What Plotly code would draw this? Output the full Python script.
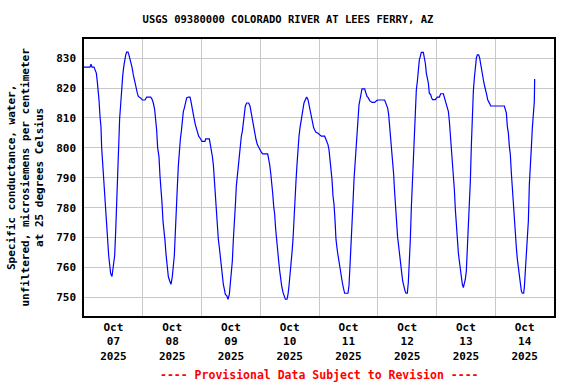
import plotly.graph_objects as go
import pandas as pd

# Hours after 2025-10-07 00:00 and specific conductance readings (uS/cm at 25 C)
hours = [
    0, 2.45, 2.86, 3.27, 4.08, 4.49, 5.04, 5.45, 5.72, 6.13, 6.54, 6.94, 7.22, 7.76, 8.17, 8.58, 8.99, 9.40,
    9.67, 10.08, 10.48, 10.89, 11.44, 12.12, 12.53, 12.94, 13.34, 13.75, 14.16, 14.57, 14.98, 15.39, 15.80,
    16.20, 16.61, 17.02, 17.43, 17.97, 18.38, 18.93, 19.61, 20.15, 20.70, 21.24, 21.79, 22.19, 23.15, 23.83,
    24.92, 25.60, 27.23, 27.78, 28.32, 28.87, 29.28, 29.68, 30.09, 30.64, 31.05, 31.45, 31.86, 32.27, 32.68,
    33.09, 33.50, 33.91, 34.45, 35.00, 35.54, 36.08, 36.49, 36.90, 37.31, 37.72, 38.13, 38.54, 38.94, 39.35,
    39.76, 40.17, 40.58, 40.99, 41.53, 41.94, 42.62, 43.30, 43.71, 44.12, 44.53, 44.93, 45.48, 45.89, 46.30,
    46.84, 47.39, 48.21, 49.43, 49.70, 51.20, 51.61, 52.02, 52.43, 52.84, 53.24, 53.65, 54.06, 54.47, 54.88,
    55.29, 55.70, 56.10, 56.51, 56.92, 57.33, 57.74, 58.28, 58.83, 59.37, 59.78, 60.19, 60.60, 61.01, 61.41,
    61.82, 62.23, 62.64, 63.05, 63.46, 63.87, 64.27, 64.68, 65.09, 65.50, 65.91, 66.45, 67.27, 67.81, 68.22,
    68.77, 69.18, 69.72, 70.27, 70.81, 71.35, 71.90, 72.44, 72.99, 75.03, 75.44, 75.85, 76.26, 76.67, 77.07,
    77.48, 77.89, 78.30, 78.71, 79.12, 79.53, 79.93, 80.34, 80.75, 81.30, 81.84, 82.25, 82.93, 83.34, 83.75,
    84.15, 84.56, 84.97, 85.38, 85.79, 86.20, 86.61, 87.01, 87.42, 87.83, 88.24, 88.65, 89.06, 89.47, 89.87,
    90.42, 90.96, 91.51, 91.92, 92.33, 92.73, 93.28, 93.82, 94.23, 94.78, 95.46, 96.95, 98.31, 98.72, 99.27,
    99.67, 100.08, 100.49, 100.90, 101.31, 101.72, 102.13, 102.53, 102.94, 103.49, 103.90, 104.30, 104.71,
    105.12, 105.53, 105.94, 106.48, 107.84, 108.25, 108.66, 109.07, 109.48, 109.89, 110.30, 110.70, 111.11,
    111.52, 111.93, 112.34, 112.75, 113.16, 113.56, 114.65, 115.06, 115.61, 116.15, 116.70, 117.65, 118.74,
    119.55, 120.10, 122.82, 123.23, 123.64, 124.05, 124.46, 124.87, 125.27, 125.68, 126.09, 126.50, 126.91,
    127.32, 127.73, 128.13, 128.54, 128.95, 129.36, 129.77, 130.18, 130.72, 131.13, 131.54, 132.08, 132.49,
    132.90, 133.31, 133.72, 134.13, 134.53, 134.94, 135.35, 135.76, 136.17, 136.58, 136.99, 137.39, 137.80,
    138.62, 139.03, 139.44, 139.85, 140.25, 140.66, 141.07, 141.61, 142.02, 142.43, 143.52, 144.34, 145.16,
    145.71, 146.80, 147.20, 147.61, 148.02, 148.43, 148.84, 149.25, 149.66, 150.06, 150.47, 150.88, 151.29,
    151.70, 152.11, 152.51, 152.92, 153.33, 153.74, 154.15, 154.56, 154.97, 155.37, 155.78, 156.19, 156.60,
    157.01, 157.42, 157.83, 158.23, 158.64, 159.05, 159.46, 159.87, 160.28, 160.68, 161.23, 161.64, 162.05,
    162.45, 162.86, 163.27, 163.68, 164.09, 164.50, 164.91, 165.31, 165.72, 166.13, 171.71, 172.12, 172.53,
    172.94, 173.35, 173.76, 174.16, 174.57, 174.98, 175.39, 175.80, 176.21, 176.62, 177.02, 177.43, 177.84,
    178.25, 178.66, 179.07, 179.61, 179.88, 180.29, 180.70, 181.11, 181.52, 181.93, 182.34, 182.74, 183.15,
    183.56, 183.97, 184.10,
]
conductance = [
    827, 827, 828, 827, 827, 826, 825, 822, 818, 816, 810.5, 807, 800, 793, 789, 782, 776, 773,
    768, 764, 761, 758, 757, 760.5, 764, 772, 783, 789, 800.5, 810, 814.5, 820.5, 824,
    827, 829.5, 831, 832, 832, 831, 829.5, 827, 824.4, 822, 820, 818.3, 817.2, 816.7, 816,
    816, 817, 817, 816.3, 815, 812.8, 810, 806, 800, 797, 790.5, 787, 781.7, 775.5, 773,
    769, 764.5, 760, 757, 755.5, 754.4, 757, 760.5, 764, 771.7, 781.7, 787, 794, 800, 802.8,
    805.5, 809.4, 812.2, 813.3, 815, 816.7, 817, 817, 815.5, 814, 812.2, 810, 807.8, 806.7, 805.5,
    803.9, 803.3, 802.2, 802.2, 803, 803, 801.4, 800, 797.2, 794.4, 789, 783, 779.4, 771.7, 769.4,
    766.7, 763.3, 759.4, 756, 754.4, 752.8, 751, 750.6, 749.4, 751, 754.4, 759, 762.2, 769.4, 773.9,
    780.6, 787.2, 791, 795, 798.9, 800.5, 803.9, 805.5, 809, 811.7, 814, 815, 815, 814, 812.2,
    809.4, 807.2, 804.4, 802.8, 801.1, 800, 799.4, 798.6, 798, 798, 796.7, 794.4, 791.7, 789, 785,
    780.6, 777.8, 772.8, 768.3, 765, 762.2, 759, 756, 753.9, 751.7, 750.6, 749.4, 749.4, 751, 753.9,
    757.2, 760, 765, 769.4, 777.2, 781.7, 789, 794.4, 800.5, 803.9, 806.7, 809, 811.7, 813.3, 815,
    816.1, 817, 816.1, 814.4, 812.2, 810, 807.8, 806.7, 806, 805.2, 805, 803.9, 803.9, 803, 802.2,
    801.1, 799.4, 796.1, 793.3, 789.4, 783.9, 781.1, 776.1, 769.4, 765.6, 763.3, 760.5, 758.3,
    756.7, 755, 753.3, 751.4, 751.4, 753.9, 760.5, 769.4, 772.8, 781.7, 789.4, 793.9, 801.1,
    805, 811.1, 814.4, 816.1, 818.3, 819.7, 819.7, 818.6, 817.2, 816.7, 815.8, 815.2, 815.2,
    815.8, 816, 816, 815, 814.2, 813.3, 811.1, 807, 805, 799.4, 795, 791.1, 785,
    778.9, 775.5, 770, 767.2, 763.3, 760, 758.3, 755.5, 753.3, 752.2, 751.4, 751.4, 755,
    760.5, 769.4, 780, 788.3, 797.8, 807.2, 812.2, 819.4, 822.2, 826.1, 829.4, 830.6, 831.9,
    831.9, 830.6, 828.3, 825, 823.3, 821.7, 818.3, 817.8, 816.7, 816.1, 816.1, 817, 817,
    818.1, 818.1, 817, 816.1, 815, 813.3, 812.2, 809, 804.4, 801.7, 796.1, 790, 786.1,
    779.4, 773.3, 769.4, 765, 762.2, 758.9, 756.1, 754.4, 753.3, 754.4, 756.1, 758.9, 766.1,
    773.9, 782.8, 788.9, 800.5, 812.2, 818.9, 823.3, 827.8, 830, 831.1, 831.1, 830, 827.8,
    825.6, 823.3, 822.2, 820.6, 818.6, 817.8, 816.1, 815.6, 814.8, 814, 814, 812.8, 811.7,
    807.2, 805, 800.5, 797.8, 791.7, 786.1, 782.8, 776.1, 769.4, 766.7, 762.8, 760, 756.1,
    753.3, 752.2, 751.4, 751.4, 753.3, 758.3, 765, 770, 775.5, 787.8, 792.8, 800, 806.7,
    812.2, 815.6, 823,
]

start = pd.Timestamp("2025-10-07 00:00")
times = [start + pd.Timedelta(hours=h) for h in hours]

y_ticks = [750, 760, 770, 780, 790, 800, 810, 820, 830]
title_text = "USGS 09380000 COLORADO RIVER AT LEES FERRY, AZ"
y_title = "Specific conductance, water,<br>unfiltered, microsiemens per centimeter<br>at 25 degrees Celsius"
footer = "---- Provisional Data Subject to Revision ----"

FONT = "DejaVu Sans Mono"

fig = go.Figure()
fig.add_trace(go.Scatter(x=times, y=conductance, mode="lines",
                         line=dict(color="#0000FF", width=1.2), hoverinfo="x+y"))

fig.update_layout(
    width=576, height=384,
    margin=dict(l=84, r=22, t=39, b=68),
    paper_bgcolor="white", plot_bgcolor="white",
    showlegend=False,
    font=dict(family=FONT, size=11, color="black", weight="bold"),
    title=dict(text=title_text, x=0.5, xref="container", xanchor="center",
               y=1 - 19 / 384, yref="container", yanchor="middle",
               font=dict(family=FONT, size=10.5, color="black", weight="bold")),
)

fig.update_xaxes(
    type="date",
    range=["2025-10-07 00:00", "2025-10-15 00:00"],
    tick0="2025-10-07 00:00", dtick=86400000,
    ticklabelmode="period", tickformat="%b<br>%d<br>%Y",
    showgrid=True, gridcolor="#C8C8C8", gridwidth=1,
    showline=True, linecolor="black", linewidth=1.5, mirror=True,
    ticks="", zeroline=False,
    tickfont=dict(family=FONT, size=11, color="black", weight="bold"),
)
fig.update_yaxes(
    range=[743.8, 836.4],
    tickvals=y_ticks,
    showgrid=True, gridcolor="#C8C8C8", gridwidth=1,
    showline=True, linecolor="black", linewidth=1.5, mirror=True,
    ticks="", zeroline=False, ticklabelstandoff=4,
    tickfont=dict(family=FONT, size=11, color="black", weight="bold"),
)

fig.add_annotation(text=y_title, xref="paper", yref="paper",
                   x=(25 - 84) / 470, y=0.5, xanchor="center", yanchor="middle",
                   textangle=-90, showarrow=False,
                   font=dict(family=FONT, size=11, color="black", weight="bold"))
fig.add_annotation(text=footer, xref="paper", yref="paper",
                   x=0.5, y=(316 - 375) / 277, xanchor="center", yanchor="middle",
                   showarrow=False,
                   font=dict(family=FONT, size=11.5, color="#FF0000", weight="bold"))

fig.write_html("out.html", config={"displayModeBar": False},
               post_script="document.body.style.margin='0';")
